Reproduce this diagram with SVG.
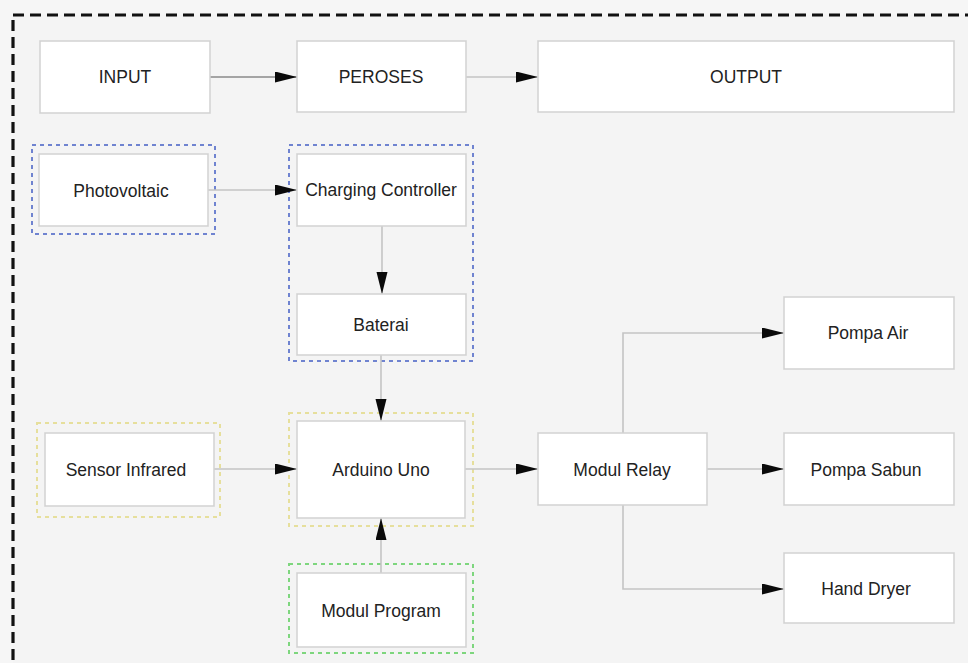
<svg xmlns="http://www.w3.org/2000/svg" width="968" height="663" viewBox="0 0 968 663">
<defs>
<marker id="ah" markerUnits="userSpaceOnUse" markerWidth="24" markerHeight="12" refX="22" refY="5.5" orient="auto">
<path d="M0,0 L22,5.5 L0,11 z" fill="#0a0a0a"/>
</marker>
<style>
.box{fill:#fff;stroke:#d2d2d2;stroke-width:1.5}
.lbl{font-family:"Liberation Sans",Arial,sans-serif;font-size:17.5px;fill:#222;text-anchor:middle;dominant-baseline:central}
.con{fill:none;stroke:#c4c4c4;stroke-width:1.6}
.grp{fill:none;stroke-width:2;stroke-dasharray:4 4}
.blue{stroke:#6f83d0}
.yellow{stroke:#e6df9c}
.green{stroke:#7ed67e}
</style>
</defs>
<rect x="0" y="0" width="968" height="663" fill="#f6f6f6"/>
<rect x="13" y="15" width="970" height="670" fill="#f4f4f4" stroke="#111" stroke-width="3.2" stroke-dasharray="11 6"/>

<g id="groups">
<rect class="grp blue" x="32" y="145" width="183" height="89"/>
<rect class="grp blue" x="289" y="145" width="184" height="216"/>
<rect class="grp yellow" x="37" y="423" width="183" height="94"/>
<rect class="grp yellow" x="289" y="413" width="184" height="113"/>
<rect class="grp green" x="289" y="564" width="184" height="89"/>
</g>

<g id="connectors">
<line class="con" x1="210" y1="77" x2="297" y2="77" style="stroke:#8a8a8a" marker-end="url(#ah)"/>
<line class="con" x1="466" y1="77" x2="538" y2="77" marker-end="url(#ah)"/>
<line class="con" x1="208" y1="190" x2="297" y2="190" marker-end="url(#ah)"/>
<line class="con" x1="382" y1="226" x2="382" y2="294" marker-end="url(#ah)"/>
<line class="con" x1="381" y1="355" x2="381" y2="421" marker-end="url(#ah)"/>
<line class="con" x1="381" y1="573" x2="381" y2="518" marker-end="url(#ah)"/>
<line class="con" x1="214" y1="469" x2="297" y2="469" marker-end="url(#ah)"/>
<line class="con" x1="465" y1="469" x2="538" y2="469" marker-end="url(#ah)"/>
<polyline class="con" points="623,433 623,333 784,333" marker-end="url(#ah)"/>
<line class="con" x1="707" y1="469" x2="784" y2="469" marker-end="url(#ah)"/>
<polyline class="con" points="623,505 623,589 784,589" marker-end="url(#ah)"/>
</g>

<g id="input"><rect class="box" x="40" y="41" width="170" height="72"/><text class="lbl" x="125" y="77">INPUT</text></g>
<g id="peroses"><rect class="box" x="297" y="41" width="169" height="71"/><text class="lbl" x="381" y="77">PEROSES</text></g>
<g id="output"><rect class="box" x="538" y="41" width="416" height="71"/><text class="lbl" x="746" y="77">OUTPUT</text></g>
<g id="photovoltaic"><rect class="box" x="39" y="154" width="169" height="72"/><text class="lbl" x="121" y="191">Photovoltaic</text></g>
<g id="charging-controller"><rect class="box" x="297" y="154" width="169" height="72"/><text class="lbl" x="381" y="190">Charging Controller</text></g>
<g id="baterai"><rect class="box" x="297" y="294" width="169" height="61"/><text class="lbl" x="381" y="325">Baterai</text></g>
<g id="sensor-infrared"><rect class="box" x="45" y="433" width="169" height="73"/><text class="lbl" x="126" y="470">Sensor Infrared</text></g>
<g id="arduino-uno"><rect class="box" x="297" y="421" width="168" height="97"/><text class="lbl" x="381" y="470">Arduino Uno</text></g>
<g id="modul-program"><rect class="box" x="297" y="573" width="169" height="74"/><text class="lbl" x="381" y="611">Modul Program</text></g>
<g id="modul-relay"><rect class="box" x="538" y="433" width="169" height="72"/><text class="lbl" x="622" y="470">Modul Relay</text></g>
<g id="pompa-air"><rect class="box" x="784" y="297" width="170" height="72"/><text class="lbl" x="868" y="333">Pompa Air</text></g>
<g id="pompa-sabun"><rect class="box" x="784" y="433" width="170" height="72"/><text class="lbl" x="866" y="470">Pompa Sabun</text></g>
<g id="hand-dryer"><rect class="box" x="784" y="553" width="170" height="70"/><text class="lbl" x="866" y="589">Hand Dryer</text></g>
</svg>
